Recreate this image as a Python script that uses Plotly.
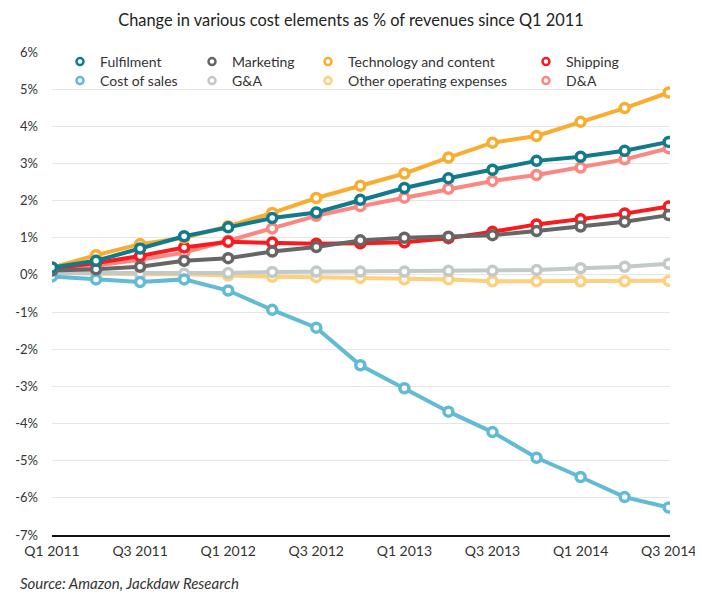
import plotly.graph_objects as go

quarters = ["Q1 2011", "Q2 2011", "Q3 2011", "Q4 2011", "Q1 2012", "Q2 2012", "Q3 2012", "Q4 2012",
            "Q1 2013", "Q2 2013", "Q3 2013", "Q4 2013", "Q1 2014", "Q2 2014", "Q3 2014"]

fulfilment = [0.20, 0.38, 0.71, 1.04, 1.28, 1.53, 1.68, 2.02, 2.34, 2.60, 2.83, 3.07, 3.18, 3.34, 3.58]
cost_of_sales = [-0.04, -0.12, -0.19, -0.12, -0.42, -0.94, -1.42, -2.43, -3.05, -3.68, -4.23, -4.92, -5.44, -5.98, -6.26]
marketing = [0.12, 0.15, 0.22, 0.38, 0.45, 0.63, 0.75, 0.93, 1.00, 1.03, 1.07, 1.18, 1.30, 1.43, 1.61]
g_and_a = [0.05, 0.05, 0.04, 0.03, 0.05, 0.08, 0.09, 0.09, 0.09, 0.11, 0.11, 0.13, 0.18, 0.22, 0.30]
technology = [0.20, 0.53, 0.83, 1.00, 1.31, 1.67, 2.07, 2.40, 2.73, 3.16, 3.56, 3.74, 4.12, 4.49, 4.91]
other_opex = [0.05, 0.03, 0.02, 0.02, -0.02, -0.05, -0.06, -0.08, -0.12, -0.12, -0.17, -0.17, -0.17, -0.17, -0.16]
shipping = [0.17, 0.32, 0.51, 0.74, 0.89, 0.87, 0.84, 0.85, 0.88, 0.99, 1.16, 1.36, 1.50, 1.65, 1.84]
d_and_a = [0.15, 0.25, 0.41, 0.60, 0.92, 1.25, 1.59, 1.85, 2.08, 2.32, 2.53, 2.69, 2.89, 3.11, 3.41]

y_tick_values = [-7, -6, -5, -4, -3, -2, -1, 0, 1, 2, 3, 4, 5, 6]
y_tick_labels = ["-7%", "-6%", "-5%", "-4%", "-3%", "-2%", "-1%", "0%", "1%", "2%", "3%", "4%", "5%", "6%"]
x_index = list(range(len(quarters)))
x_tick_index = x_index[::2]
x_tick_labels = quarters[::2]

FONT = "Lato"
TEXT = "#333333"
W, H = 695, 594          # page adds an 8px body margin
PL, PT, PR, PB = 44, 44, 662, 527   # plot area in figure pixels

# (name, values, colour) in drawing order (bottom to top)
series = [
    ("Other operating expenses", other_opex, "#fdd07e"),
    ("G&A", g_and_a, "#c3c8c8"),
    ("Cost of sales", cost_of_sales, "#62bad4"),
    ("D&A", d_and_a, "#fb8780"),
    ("Shipping", shipping, "#f81a1e"),
    ("Marketing", marketing, "#666666"),
    ("Technology and content", technology, "#f9ad30"),
    ("Fulfilment", fulfilment, "#117a8b"),
]

# legend slot for each series: (left edge px, top px) in figure pixels
legend_slots = {
    "Fulfilment": (52, 38), "Marketing": (184, 38), "Technology and content": (300, 38), "Shipping": (518, 38),
    "Cost of sales": (52, 57), "G&A": (184, 57), "Other operating expenses": (300, 57), "D&A": (518, 57),
}

fig = go.Figure()
for name, vals, col in series:
    fig.add_trace(go.Scatter(
        x=x_index, y=vals, name=name, mode="lines+markers",
        line=dict(color=col, width=4),
        marker=dict(symbol="circle", size=9, color="white", line=dict(color=col, width=3.5)),
        showlegend=False, text=quarters, hovertemplate="%{text}: %{y:.2f}%<extra>" + name + "</extra>",
    ))

legend_layouts = {}
for i, (name, vals, col) in enumerate(series):
    lid = "legend" if i == 0 else "legend%d" % (i + 1)
    fig.add_trace(go.Scatter(
        x=[0], y=[None], name=name, mode="markers",
        marker=dict(symbol="circle", size=7, color="white", line=dict(color=col, width=2.5)),
        legend=lid, showlegend=True, hoverinfo="skip",
    ))
    lx, ly = legend_slots[name]
    legend_layouts[lid] = dict(x=lx / W, xref="container", xanchor="left",
                               y=1 - ly / H, yref="container", yanchor="top",
                               orientation="v", bgcolor="rgba(0,0,0,0)", borderwidth=0,
                               font=dict(family=FONT, size=14, color=TEXT), itemwidth=30)

fig.update_layout(
    width=W, height=H,
    margin=dict(l=PL, r=W - PR, t=PT, b=H - PB, autoexpand=False),
    paper_bgcolor="white", plot_bgcolor="white",
    font=dict(family=FONT, size=13, color=TEXT),
    title=dict(text="Change in various cost elements as % of revenues since Q1 2011",
               x=343 / W, xref="container", xanchor="center",
               y=1 - 12 / H, yref="container", yanchor="middle",
               font=dict(family=FONT, size=16.4, color="#222222")),
    xaxis=dict(range=[0, 14.03], tickmode="array", tickvals=x_tick_index, ticktext=x_tick_labels,
               showgrid=False, showline=True, linecolor="#111111", linewidth=2,
               ticks="", ticklabelstandoff=2, tickfont=dict(family=FONT, size=14, color=TEXT), zeroline=False),
    yaxis=dict(range=[-7, 6], tickmode="array", tickvals=y_tick_values, ticktext=y_tick_labels,
               showgrid=True, gridcolor="#e6e6e6", gridwidth=1, zeroline=False,
               showline=False, ticks="", ticklabelstandoff=13,
               tickfont=dict(family=FONT, size=13, color=TEXT)),
    annotations=[dict(text="<i>Source: Amazon, Jackdaw Research</i>", xref="paper", yref="paper",
                      x=(10 - PL) / (PR - PL), y=(PB - 575) / (PB - PT), xanchor="left", yanchor="middle",
                      showarrow=False, font=dict(family=FONT, size=15, color=TEXT))],
)
fig.update_layout(**legend_layouts)

fig.write_html("out.html")
